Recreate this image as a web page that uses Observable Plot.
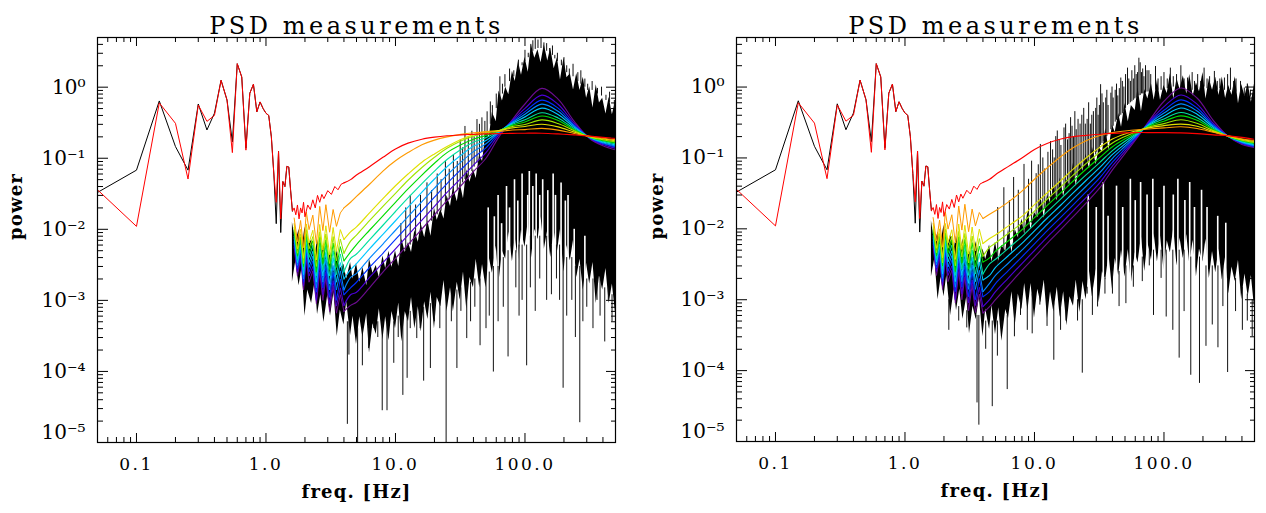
<!DOCTYPE html>
<html><head><meta charset="utf-8">
<script src="https://cdn.jsdelivr.net/npm/d3@7"></script>
<script src="https://cdn.jsdelivr.net/npm/@observablehq/plot@0.6"></script>
<style>
body{margin:0;background:#fff;}
#wrap{display:flex;width:1266px;height:513px;overflow:hidden;}
</style></head><body><div id="wrap"></div>
<script>
// ---------- low-frequency data (shared by both panels) ----------
const lowFreq  = [0.05,0.1,0.15,0.2,0.25,0.3,0.35,0.4,0.45,0.5,0.55,0.6,0.65,0.7,0.75,0.8,0.85,0.9,0.95,1.0,1.05,1.1,1.15,1.2,1.25,1.3,1.35,1.4,1.45,1.5,1.55,1.6];
const lowBlack = [.033,.068,.64,.146,.068,.58,.25,.43,1.25,.66,.17,2.14,1.39,.139,.82,1.1,.45,.62,.5,.43,.4,.2,.06,.012,.125,.009,.047,.04,.077,.075,.035,.018];
const lowRed   = [.036,.011,.6,.31,.051,.56,.33,.4,1.25,.66,.12,2.14,1.39,.13,.82,1.1,.45,.62,.5,.43,.4,.2,.06,.024,.125,.014,.047,.04,.077,.075,.035,.018];
const redNoiseFreq = [1.65,1.7,1.75,1.8,1.85,1.9,1.95,2.0,2.1,2.2,2.3,2.4,2.5,2.6,2.7,2.8,3.0,3.2,3.4,3.6,3.8];
const redNoise     = [.02,.016,.022,.014,.02,.017,.024,.015,.022,.019,.026,.02,.03,.024,.031,.027,.035,.031,.04,.036,.043];

// ---------- noisy start of the coloured curves (shared) ----------
const noiseFreq = [1.65,1.75,1.85,1.95,2.05,2.15,2.3,2.45,2.6,2.75,2.9,3.1,3.3,3.5,3.75];
const nz_orange = [.0144,.0067,.0133,.0055,.0174,.0099,.0158,.0063,.021,.0096,.0222,.0091,.019,.011,.017];
const nz_yellow = [.012,.0053,.01,.0039,.0119,.0064,.0097,.0037,.0117,.0051,.0112,.0044,.0106,.0049,.0099];
const nz_lime   = [.0106,.0046,.0086,.0033,.0099,.0053,.0079,.003,.0092,.004,.0086,.0033,.0079,.0036,.0073];
const nz_green  = [.0096,.0042,.0078,.003,.0087,.0046,.0069,.0025,.0077,.0033,.0071,.0027,.0064,.0029,.0057];
const nz_teal   = [.0088,.0038,.0071,.0027,.0077,.004,.0059,.0022,.0064,.0027,.0059,.0022,.005,.0023,.0045];
const nz_cyan   = [.008,.0034,.0061,.0023,.0066,.0034,.0049,.0018,.0053,.0022,.0047,.0017,.004,.0018,.0034];
const nz_dodger = [.0074,.0031,.0055,.002,.0057,.0029,.0042,.0015,.0045,.0018,.0038,.0014,.0031,.0014,.0026];
const nz_blue   = [.0067,.0028,.0049,.0018,.005,.0025,.0036,.0013,.0036,.0015,.003,.0011,.0025,.001,.002];
const nz_violet = [.0061,.0025,.0043,.0016,.0044,.0022,.003,.001,.0031,.0012,.0025,.0009,.0019,.00083,.0015];
const nz_purple = [.0056,.0022,.0039,.0014,.0038,.0018,.0026,.0009,.0025,.001,.0021,.0007,.0016,.00066,.0012];

// ---------- smooth model curves ----------
const modelFreq = [4,4.5,5,6.3,8,10,12.5,16,20,25,32,40,50,63,80,100,135,180,240,315,400,500];
const L_red    = [.045,.05,.058,.076,.103,.135,.163,.185,.198,.207,.213,.217,.22,.222,.224,.225,.225,.22,.213,.205,.197,.19];
const L_orange = [.02,.024,.029,.043,.066,.092,.12,.155,.18,.2,.217,.228,.235,.238,.25,.253,.263,.249,.223,.204,.191,.182];
const L_yellow = [.0072,.0092,.0108,.017,.027,.041,.06,.088,.115,.146,.183,.215,.238,.245,.268,.28,.301,.276,.233,.202,.187,.176];
const L_lime   = [.0046,.0068,.0083,.0132,.021,.032,.049,.074,.103,.138,.175,.205,.226,.245,.28,.298,.346,.308,.243,.2,.182,.17];
const L_green  = [.0036,.0048,.0061,.0097,.0155,.024,.037,.058,.085,.12,.155,.185,.21,.243,.29,.324,.393,.34,.252,.2,.178,.165];
const L_teal   = [.0025,.0039,.0045,.0071,.0114,.0178,.0276,.044,.066,.096,.133,.168,.195,.24,.3,.347,.437,.369,.26,.198,.174,.16];
const L_cyan   = [.002,.0027,.0033,.0053,.0085,.0132,.0205,.0333,.051,.076,.11,.147,.178,.236,.31,.382,.507,.414,.272,.197,.169,.154];
const L_dodger = [.0014,.0021,.0024,.0039,.0062,.0097,.0151,.0245,.038,.058,.088,.124,.16,.232,.32,.417,.578,.459,.283,.196,.165,.149];
const L_blue   = [.0012,.0015,.0018,.0029,.0046,.0072,.0112,.0182,.0284,.044,.069,.102,.14,.225,.33,.453,.658,.507,.294,.194,.161,.144];
const L_violet = [.00085,.0012,.0013,.0021,.0034,.0053,.0083,.0135,.021,.033,.052,.08,.12,.215,.34,.503,.773,.575,.309,.193,.156,.138];
const L_purple = [.0007,.00085,.00094,.0015,.0025,.0039,.0061,.0101,.016,.0253,.041,.065,.1,.2,.35,.58,.96,.68,.33,.19,.15,.131];
const R_red    = [.045,.05,.058,.076,.1,.132,.16,.185,.2,.208,.216,.222,.226,.228,.228,.228,.226,.22,.212,.205,.195,.183];
const R_orange = [.014,.016,.018,.024,.034,.05,.072,.105,.14,.175,.207,.228,.24,.25,.258,.265,.275,.26,.23,.205,.185,.176];
const R_yellow = [.0062,.0073,.0082,.011,.015,.022,.032,.048,.07,.1,.142,.185,.218,.245,.27,.285,.3,.28,.235,.203,.183,.17];
const R_lime   = [.0041,.0055,.0063,.00865,.0121,.0178,.0261,.0393,.0577,.0832,.12,.163,.201,.239,.28,.305,.346,.308,.243,.202,.178,.165];
const R_green  = [.0034,.0039,.00485,.0068,.0097,.0144,.0212,.0323,.0476,.0692,.102,.144,.186,.233,.29,.33,.393,.34,.252,.201,.175,.161];
const R_teal   = [.0023,.0032,.00372,.00534,.00778,.0116,.0173,.0265,.0393,.0576,.0867,.127,.172,.227,.3,.355,.437,.369,.26,.2,.172,.157];
const R_cyan   = [.0019,.0022,.00286,.0042,.00625,.00938,.0141,.0217,.0324,.048,.0735,.112,.158,.222,.31,.39,.507,.414,.272,.2,.169,.153];
const R_dodger = [.0013,.0017,.0022,.0033,.00501,.00758,.0115,.0178,.0267,.0399,.0623,.0989,.146,.216,.322,.43,.578,.459,.283,.2,.166,.149];
const R_blue   = [.0011,.0013,.00169,.00259,.00403,.00613,.00934,.0146,.022,.0332,.0528,.0873,.135,.211,.335,.47,.658,.507,.294,.2,.163,.146];
const R_violet = [.0008,.001,.0013,.00204,.00324,.00495,.0076,.0119,.0182,.0276,.0448,.077,.125,.205,.35,.53,.773,.575,.309,.2,.16,.143];
const R_purple = [.00065,.0008,.001,.0016,.0026,.004,.0062,.0098,.015,.023,.038,.068,.115,.2,.37,.63,.97,.7,.34,.2,.155,.14];

// ---------- measured PSD (dense black band: upper and lower edges) ----------
const bodyFreq = [1.6,1.7,1.8,1.9,2.0,2.1,2.25,2.4,2.5,2.65,2.8,3.0,3.15,3.35,3.55,3.75,4.0,4.2,4.5,4.7,5.0,5.3,5.6,6.0,6.3,6.7,7.1,7.5,8.0,8.4,8.9,9.4,10,10.6,11.2,11.9,12.6,13.3,14.1,15,15.8,16.8,17.8,18.8,20,21,22.4,23.7,25,26.6,28,30,31.6,33.5,35.5,37.6,40,42,44.7,47,50,53,56,60,63,67,71,75,80,84,89,94,100,106,112,119,126,133,141,150,158,168,178,188,200,211,224,237,251,266,282,299,316,335,355,376,398,422,447,473,500];
const bodyHiL = [.0125,.0067,.0099,.0051,.0108,.006,.007,.0042,.0072,.0041,.0063,.0033,.0048,.0025,.0051,.0028,.0032,.002,.0034,.002,.0033,.0018,.0029,.0016,.0038,.0024,.0031,.0021,.0042,.0028,.0049,.0029,.005,.003,.0073,.0047,.0065,.0047,.0096,.0066,.0119,.0076,.0132,.008,.02,.0134,.019,.014,.03,.021,.039,.0245,.044,.027,.069,.046,.07,.052,.114,.09,.225,.196,.44,.33,.88,.64,1.0,.78,1.68,1.2,2.3,1.47,2.64,1.62,3.98,2.56,3.35,2.21,3.96,2.33,3.56,1.82,2.59,1.26,2.57,1.36,1.55,.91,1.56,.9,1.38,.7,1.01,.51,1.08,.6,.7,.42,.72,.41,.63];
const bodyLoL = [.0018,.0036,.0016,.0029,.0006,.0014,.0009,.0019,.00063,.0012,.00049,.0012,.0006,.0013,.00031,.00073,.00045,.00096,.00032,.0006,.00024,.00059,.0003,.00065,.00018,.00047,.00033,.00076,.00028,.00059,.00027,.0007,.0004,.00092,.00026,.00069,.0005,.0011,.0004,.00081,.00036,.00096,.00054,.0013,.0004,.0011,.00081,.0019,.0007,.0015,.00069,.0018,.001,.0025,.00075,.0021,.0015,.0038,.0015,.0032,.0015,.004,.0024,.0058,.0018,.0049,.0038,.0092,.0035,.0077,.0036,.0098,.0056,.013,.0038,.01,.0072,.015,.0052,.0098,.004,.0095,.0048,.0099,.0025,.0059,.0036,.007,.0021,.0038,.0014,.0033,.0017,.0034,.0009,.0022,.0014,.0028,.0009,.0017,.00066];
const bodyHiR = [.013,.0062,.009,.0064,.0112,.0046,.0082,.0053,.0079,.0041,.0072,.0033,.0049,.0036,.0066,.0028,.0052,.0037,.0059,.0034,.0065,.0035,.0058,.0048,.0098,.0046,.0098,.0075,.0138,.0084,.0176,.0098,.017,.0143,.0294,.0141,.03,.0232,.04,.0252,.052,.0286,.049,.0405,.084,.04,.084,.065,.1125,.07,.143,.081,.14,.12,.26,.129,.29,.23,.425,.27,.585,.325,.55,.465,.98,.45,.92,.68,1.125,.65,1.26,.65,1.05,.81,1.54,.68,1.32,.92,1.44,.8,1.5,.75,1.15,.86,1.61,.68,1.3,.9,1.375,.76,1.39,.69,1.05,.765,1.4,.58,1.09,.74,1.125,.61,1.1];
const bodyLoR = [.0021,.0038,.001,.0021,.0011,.0022,.0006,.0014,.0007,.0014,.00053,.0011,.00033,.00081,.00052,.0011,.0003,.00074,.00038,.00083,.00032,.00077,.00026,.00073,.00054,.0013,.00042,.0012,.00072,.0017,.0007,.0017,.00055,.0014,.0009,.0019,.00054,.0013,.00067,.0015,.00056,.0013,.00043,.0011,.00081,.0019,.00066,.0018,.001,.0025,.0011,.0027,.0009,.0025,.0019,.0044,.0014,.0038,.0022,.005,.0021,.0051,.0017,.0046,.0033,.0078,.0025,.0065,.0036,.0085,.0034,.008,.0026,.0068,.0046,.0102,.003,.0074,.0038,.0083,.0032,.0069,.0021,.0052,.0034,.0072,.002,.0048,.0024,.0052,.0019,.004,.0012,.0029,.0018,.0036,.001,.0023,.0011,.0022,.00077];

// upward spikes: frequency, tip, base
const upL_f    = [11,12,13,14.3,15.6,17.5,19,21,22.5,24.3,26,28,30,31.6,33,34.4,36.5,38.9,40.5,42.6,44.5,46.5,49,51,54,56,60,64,67,70,76,82,89,95,100,106,111,115,120,126,133,140,147,155,163,170,178,191,200,210,220,235,256,270,290,305,330,363,390,422,450,490];
const upL_tip  = [.012,.02,.03,.022,.03,.045,.035,.06,.05,.09,.07,.11,.09,.18,.14,.28,.2,.24,.2,.35,.3,.37,.33,.45,.62,.55,.8,1.4,1.1,1.5,1.8,1.7,2.4,2.2,3.3,3.0,4.0,4.5,5,4.6,5,4.2,4.1,3.5,3.8,2.8,3.0,2.4,2.6,2.0,1.8,2.1,1.6,1.7,1.3,1.1,1.2,.96,1.0,.77,.85,.65];
const upL_base = [.004,.005,.006,.007,.008,.01,.013,.016,.018,.022,.026,.03,.036,.04,.045,.05,.055,.065,.075,.085,.1,.12,.15,.18,.3,.4,.5,.6,.8,1.0,1.2,1.4,1.7,2.0,2.3,2.6,2.9,3.2,3.4,3.5,3.5,3.3,3.2,2.9,2.8,2.5,2.3,2.0,1.8,1.6,1.5,1.4,1.2,1.1,1.0,.9,.9,.8,.75,.65,.6,.5];
const upR_f    = [5.2,5.8,6.4,6.9,7.5,8.3,9,9.5,10.3,10.7,11.1,11.6,12,12.7,13.3,13.8,14.2,14.6,15,15.5,16,16.9,17.4,18,18.5,19,19.5,20,20.5,21,21.7,22.5,23.2,24,24.7,25.5,26.2,27,27.7,28.5,29.7,30.3,31,31.7,32.4,33.2,34,35.5,36.2,37,38.9,39.7,40.5,42,43,44,45.2,46.4,47.7,49,50.5,52.3,53.5,55,56.5,58,59.5,61,62.5,64,65.5,67,68.5,70,72,74,76.5,79,86,90,95,100,106,112,118,125,135,143,152,165,172,182,192,204,215,225,245,258,270,293,310,326,345,360,390,417,440,465,490];
const upR_tip  = [.02,.038,.025,.053,.035,.081,.05,.09,.06,.08,.155,.1,.07,.12,.17,.13,.1,.2,.24,.18,.15,.265,.3,.18,.22,.37,.28,.2,.45,.25,.35,.3,.4,.5,.3,.35,.6,.3,.4,.45,.5,.7,.4,.55,1.08,.8,.6,.7,.9,.55,.82,1.0,.7,.9,1.1,.75,.95,1.34,1.2,1.0,1.5,1.85,1.3,1.2,1.7,1.3,2.0,1.5,1.6,2.55,2.2,1.6,1.8,1.4,2.0,1.7,1.7,1.5,1.95,1.3,1.4,1.6,1.3,1.85,1.4,1.5,2.0,1.3,1.34,1.6,1.2,1.5,1.2,1.85,1.3,1.4,1.66,1.2,1.3,1.34,1.5,1.85,1.2,1.3,1.2,.97,1.1,.9,.87];
const upR_base = [.003,.004,.005,.006,.007,.009,.011,.012,.014,.015,.016,.018,.019,.021,.023,.025,.026,.027,.028,.03,.032,.035,.037,.04,.042,.045,.047,.05,.052,.055,.058,.062,.066,.07,.075,.08,.085,.09,.095,.1,.11,.12,.13,.14,.15,.16,.17,.19,.2,.22,.25,.27,.28,.32,.34,.36,.38,.4,.42,.45,.5,.55,.57,.6,.62,.65,.68,.7,.72,.75,.76,.8,.8,.8,.82,.85,.85,.85,.9,.9,.9,.95,.95,1.0,1.0,1.0,1.0,.95,.9,.9,.9,.95,.95,1.0,.95,.95,.9,.9,.95,.9,.9,.9,.85,.85,.8,.75,.72,.72,.7];

// downward spikes: frequency, tip, base
const dnL_f    = [4.25,4.37,5.1,5.55,6.2,6.8,7.3,7.9,8.6,9.7,10.5,11.4,12.3,13,14.6,15.5,16.5,18.6,20,22,24.6,27,29.8,32,35.5,38,41,45,50,53,57,62,68,74,85,90,95,103,110,120,130,147,160,175,185,197,210,230,245,265,280,300,335,360,380,413,440,470];
const dnL_tip  = [1.8e-5,1.7e-4,1e-5,1.2e-4,2.1e-4,4e-4,3e-4,2.8e-5,2.8e-5,1.3e-4,3e-4,4.6e-5,8e-5,4e-4,2.9e-4,4e-4,7.3e-5,1.1e-4,5e-4,4e-4,1e-5,5e-4,1.1e-4,7e-4,2.9e-4,5e-4,8e-4,2.3e-4,4e-4,6e-4,9.8e-5,5e-4,8e-4,1.6e-4,1.5e-3,6e-4,1e-3,1.2e-4,1.5e-3,7e-4,2e-3,1e-3,1.2e-3,2e-3,1e-3,5.8e-5,6e-4,1e-3,3e-4,1.9e-5,5e-4,8e-4,4e-4,1e-3,6e-4,2.6e-4,1e-3,5e-4];
const dnL_base = [.0005,.0005,.0004,.0004,.0004,.0005,.0005,.0005,.0005,.0005,.0006,.0006,.0006,.0007,.0008,.0008,.0008,.0009,.001,.001,.0012,.0012,.0014,.0015,.0016,.0018,.002,.002,.0025,.0025,.003,.003,.004,.005,.005,.006,.006,.006,.008,.008,.008,.008,.006,.006,.006,.005,.004,.004,.003,.003,.003,.002,.002,.002,.002,.0015,.0015,.0012];
const dnR_f    = [2.18,2.6,3.0,3.6,3.72,4.2,4.72,5.17,5.6,6.16,7.0,7.8,8.8,9.6,11,12.5,14.1,15.9,17.5,19.6,21.5,23.4,25.5,28,30.7,35,40,45,50.8,58,68,77,83,95,104,117,131,143,161,188,211,236,261,285,310,357,403,440,480];
const dnR_tip  = [3.7e-4,5e-4,4e-4,3.5e-5,1.7e-5,2e-4,3.1e-5,1.6e-4,4e-4,5.4e-5,3e-4,6e-4,3.7e-4,3.3e-4,8.4e-4,4.2e-4,1.4e-4,3.7e-4,5e-4,9e-4,5e-4,9.2e-5,1.2e-3,6e-4,7.9e-4,1.2e-3,1.2e-3,8e-4,8.8e-4,1.5e-3,1.8e-3,3e-3,6e-4,2e-3,5.7e-4,3.7e-4,1.5e-4,6.8e-4,8.6e-5,6.6e-5,2.2e-4,4.4e-4,2.1e-4,8e-4,9.4e-5,6.8e-4,3.7e-4,5e-4,3e-4];
const dnR_base = [.001,.0008,.0007,.0006,.0006,.0005,.0005,.0005,.0005,.0006,.0008,.001,.001,.0012,.0012,.001,.0009,.0009,.0009,.0011,.001,.001,.0015,.0015,.002,.002,.0025,.0025,.003,.003,.004,.005,.005,.005,.005,.005,.005,.005,.004,.004,.003,.003,.003,.003,.002,.002,.0015,.0012,.001];

// white gaps inside the dense band: frequency, top
const gapL_f   = [52,58,62,66,72,76,83,88,95,105,108,115,122,130,137,150,165,172,190,205,215,240,290];
const gapL_top = [.02,.015,.03,.012,.04,.02,.05,.025,.06,.03,.065,.04,.06,.03,.05,.035,.06,.03,.045,.025,.03,.01,.008];
const gapR_f   = [26,30,34,37,43,48,55,60,66,74,82,92,100,118,128,145,158,172,195,215,260,300];
const gapR_top = [.03,.02,.045,.015,.04,.02,.05,.025,.045,.03,.05,.02,.04,.03,.05,.025,.045,.02,.035,.02,.015,.012];

// ---------- axes ----------
const xMajor = [0.1,1,10,100];
const xTickLabels = ["0.1","1.0","10.0","100.0"];
const xMinor = [0.06,0.07,0.08,0.09,0.2,0.3,0.4,0.5,0.6,0.7,0.8,0.9,2,3,4,5,6,7,8,9,20,30,40,50,60,70,80,90,200,300,400];
const yMajor = [1,0.1,0.01,0.001,1e-4,1e-5];
const yTickLabels = ["10\u2070","10\u207B\u00B9","10\u207B\u00B2","10\u207B\u00B3","10\u207B\u2074","10\u207B\u2075"];
const yMinor = [2,3,4,0.2,0.3,0.4,0.5,0.6,0.7,0.8,0.9,0.02,0.03,0.04,0.05,0.06,0.07,0.08,0.09,0.002,0.003,0.004,0.005,0.006,0.007,0.008,0.009,2e-4,3e-4,4e-4,5e-4,6e-4,7e-4,8e-4,9e-4,2e-5,3e-5,4e-5,5e-5,6e-5,7e-5,8e-5,9e-5];
const titleText = "PSD measurements", xTitle = "freq. [Hz]", yTitle = "power";

// ---------- rendering ----------
const colorOf = {purple:"#6a0d8e", violet:"#4a00d8", blue:"#0030ff", dodger:"#0088ff", cyan:"#00c8ff", teal:"#00e0a0", green:"#00dc00", lime:"#9ee600", yellow:"#e0e000", orange:"#ff9a00", red:"#ff0000"};
const drawOrder = ["purple","violet","blue","dodger","cyan","teal","green","lime","yellow","orange"];
const noiseOf = {purple:nz_purple, violet:nz_violet, blue:nz_blue, dodger:nz_dodger, cyan:nz_cyan, teal:nz_teal, green:nz_green, lime:nz_lime, yellow:nz_yellow, orange:nz_orange};
const modelLeft  = {red:L_red, orange:L_orange, yellow:L_yellow, lime:L_lime, green:L_green, teal:L_teal, cyan:L_cyan, dodger:L_dodger, blue:L_blue, violet:L_violet, purple:L_purple};
const modelRight = {red:R_red, orange:R_orange, yellow:R_yellow, lime:R_lime, green:R_green, teal:R_teal, cyan:R_cyan, dodger:R_dodger, blue:R_blue, violet:R_violet, purple:R_purple};

const pts = (fs, vs) => fs.map((f, i) => ({f, p: vs[i]}));
const FONT = "DejaVu Serif";

function panel(c) {
  const ph = 513 - c.mt - c.mb, pw = 633 - c.ml - c.mr;
  const m = [];
  m.push(Plot.areaY(bodyFreq.map((f, i) => ({f, lo: c.lo[i], hi: c.hi[i]})), {x: "f", y1: "lo", y2: "hi", fill: "black", clip: true}));
  m.push(Plot.ruleX(c.upF.map((f, i) => ({f, a: c.upBase[i], b: c.upTip[i]})), {x: "f", y1: "a", y2: "b", stroke: "#111", strokeWidth: 1, clip: true}));
  m.push(Plot.ruleX(c.gapF.map((f, i) => ({f, b: c.gapTop[i]})), {x: "f", y1: 1e-5, y2: "b", stroke: "white", strokeWidth: 1.6, clip: true}));
  m.push(Plot.ruleX(c.dnF.map((f, i) => ({f, a: c.dnBase[i], b: c.dnTip[i]})), {x: "f", y1: "a", y2: "b", stroke: "#111", strokeWidth: 1, clip: true}));
  m.push(Plot.line(pts(lowFreq, lowBlack), {x: "f", y: "p", stroke: "black", strokeWidth: 1, clip: true}));
  for (const k of drawOrder) {
    const md = c.model[k];
    m.push(Plot.line(pts(noiseFreq.concat([modelFreq[0]]), noiseOf[k].concat([md[0]])), {x: "f", y: "p", stroke: colorOf[k], strokeWidth: 1, clip: true}));
    m.push(Plot.line(pts(modelFreq, md), {x: "f", y: "p", stroke: colorOf[k], strokeWidth: 1.15, curve: "catmull-rom", clip: true}));
  }
  m.push(Plot.line(pts(lowFreq.concat(redNoiseFreq, [modelFreq[0]]), lowRed.concat(redNoise, [c.model.red[0]])), {x: "f", y: "p", stroke: colorOf.red, strokeWidth: 1, clip: true}));
  m.push(Plot.line(pts(modelFreq, c.model.red), {x: "f", y: "p", stroke: colorOf.red, strokeWidth: 1.15, curve: "catmull-rom", clip: true}));
  // frame and inward ticks
  m.push(Plot.frame({stroke: "black", strokeWidth: 1.2}));
  m.push(Plot.tickX(xMajor, {x: d => d, insetTop: ph - 9, stroke: "black"}));
  m.push(Plot.tickX(xMinor, {x: d => d, insetTop: ph - 5, stroke: "black"}));
  m.push(Plot.tickX(xMajor, {x: d => d, insetBottom: ph - 9, stroke: "black"}));
  m.push(Plot.tickX(xMinor, {x: d => d, insetBottom: ph - 5, stroke: "black"}));
  m.push(Plot.tickY(yMajor, {y: d => d, insetRight: pw - 11, stroke: "black"}));
  m.push(Plot.tickY(yMinor, {y: d => d, insetRight: pw - 6, stroke: "black"}));
  m.push(Plot.tickY(yMajor, {y: d => d, insetLeft: pw - 9, stroke: "black"}));
  m.push(Plot.tickY(yMinor, {y: d => d, insetLeft: pw - 4, stroke: "black"}));
  // labels
  m.push(Plot.text(xMajor, {x: d => d, text: (d, i) => xTickLabels[i], frameAnchor: "bottom", dy: 27, fontSize: 17}));
  m.push(Plot.text(yMajor.slice(0, 5), {y: d => d, text: (d, i) => yTickLabels[i], frameAnchor: "left", dx: -12, textAnchor: "end", fontSize: 20}));
  m.push(Plot.text(yMajor.slice(5), {y: d => d, text: () => yTickLabels[5], frameAnchor: "left", dx: -12, dy: -10, textAnchor: "end", fontSize: 20}));
  m.push(Plot.text([xTitle], {text: d => d, frameAnchor: "bottom", dy: 55, fontSize: 18, fontWeight: "bold"}));
  m.push(Plot.text([yTitle], {text: d => d, frameAnchor: "left", dx: c.powerDx, rotate: -90, fontSize: 18, fontWeight: "bold"}));
  m.push(Plot.text([titleText], {text: d => d, frameAnchor: "top", dy: -21, fontSize: 24}));
  const svg = Plot.plot({
    width: 633, height: 513,
    marginTop: c.mt, marginBottom: c.mb, marginLeft: c.ml, marginRight: c.mr,
    x: {type: "log", domain: [0.05, 500], axis: null},
    y: {type: "log", domain: [1e-5, 5], axis: null},
    style: {fontFamily: FONT, background: "white", color: "black", overflow: "visible"},
    marks: m
  });
  // letter spacing to mimic the wide plotting font
  svg.querySelectorAll("text").forEach(t => {
    const s = t.textContent;
    if (s === titleText) t.style.letterSpacing = "3.5px";
    else if (s === xTitle || s === yTitle) t.style.letterSpacing = "1.2px";
    else if (xTickLabels.includes(s)) t.style.letterSpacing = "2.5px";
  });
  return svg;
}

const wrap = document.getElementById("wrap");
wrap.appendChild(panel({mt: 37, mb: 71, ml: 97, mr: 18, model: modelLeft, lo: bodyLoL, hi: bodyHiL,
  upF: upL_f, upTip: upL_tip, upBase: upL_base, dnF: dnL_f, dnTip: dnL_tip, dnBase: dnL_base,
  gapF: gapL_f, gapTop: gapL_top, powerDx: -81}));
wrap.appendChild(panel({mt: 37, mb: 72, ml: 103, mr: 12, model: modelRight, lo: bodyLoR, hi: bodyHiR,
  upF: upR_f, upTip: upR_tip, upBase: upR_base, dnF: dnR_f, dnTip: dnR_tip, dnBase: dnR_base,
  gapF: gapR_f, gapTop: gapR_top, powerDx: -79}));
</script></body></html>
